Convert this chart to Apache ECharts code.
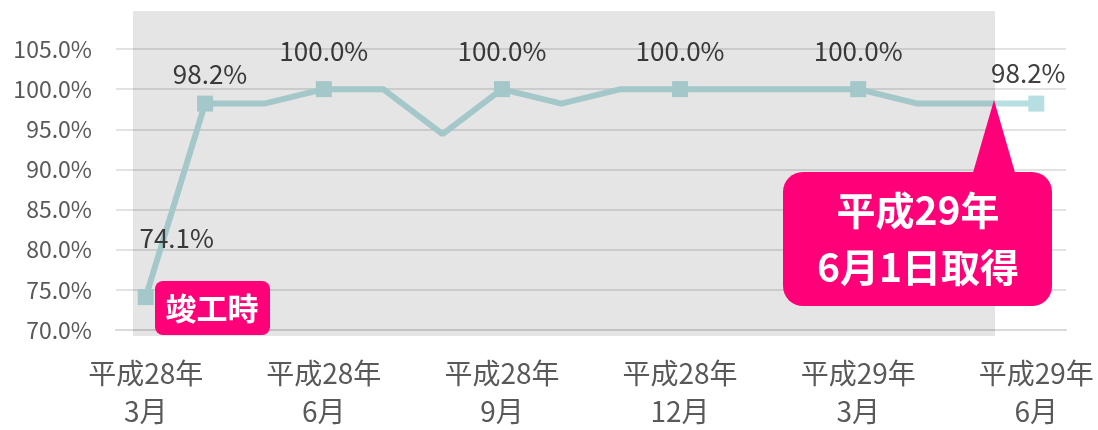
<!DOCTYPE html>
<html><head><meta charset="utf-8">
<script src="https://cdn.jsdelivr.net/npm/echarts@6/dist/echarts.min.js"></script>
<style>html,body{margin:0;padding:0;background:#fff}#c{width:1098px;height:430px}</style>
</head><body><div id="c"></div>
<script>
const categories = ['平成28年\n3月','平成28年\n4月','平成28年\n5月','平成28年\n6月','平成28年\n7月','平成28年\n8月','平成28年\n9月','平成28年\n10月','平成28年\n11月','平成28年\n12月','平成29年\n1月','平成29年\n2月','平成29年\n3月','平成29年\n4月','平成29年\n5月','平成29年\n6月'];
const occupancy = [74.1, 98.2, 98.2, 100, 100, 94.4, 100, 98.2, 100, 100, 100, 100, 100, 98.2, 98.2, 98.2];
const markedIndex = [0, 1, 3, 6, 9, 12, 15];
const yTicks = [70, 75, 80, 85, 90, 95, 100, 105];
const labelOffsets = {0: [31, -33], 1: [5, -3], 3: [0, -12], 6: [0, -12], 9: [0, -12], 12: [0, -12], 15: [-8, -4]};

const FONT = '"Noto Sans CJK JP", "Noto Sans", sans-serif';
const LINE = '#b7dfe1';

const seriesData = occupancy.map((v, i) => {
  const marked = markedIndex.includes(i);
  return {
    value: v,
    symbol: marked ? 'rect' : 'none',
    label: marked ? { show: true, offset: labelOffsets[i] } : { show: false }
  };
});

const chart = echarts.init(document.getElementById('c'), null, { renderer: 'canvas' });
chart.setOption({
  animation: false,
  backgroundColor: '#ffffff',
  grid: { left: 116, right: 32, top: 49, bottom: 94, containLabel: false },
  xAxis: {
    type: 'category',
    data: categories,
    boundaryGap: true,
    axisLine: { lineStyle: { color: '#d9d9d9', width: 2 } },
    axisTick: { show: false },
    axisLabel: { interval: 2, color: '#595959', fontSize: 28, fontFamily: FONT, lineHeight: 38, margin: 24 }
  },
  yAxis: {
    type: 'value',
    min: yTicks[0], max: yTicks[yTicks.length - 1], interval: 5,
    axisLine: { show: false },
    axisTick: { show: false },
    splitLine: { lineStyle: { color: '#d9d9d9', width: 1.5 } },
    axisLabel: { color: '#595959', fontSize: 23, fontFamily: FONT, margin: 24,
      formatter: v => v.toFixed(1) + '%' }
  },
  series: [{
    type: 'line',
    data: seriesData,
    symbolSize: 16,
    lineStyle: { color: LINE, width: 6 },
    itemStyle: { color: LINE },
    label: { position: 'top', distance: 5, color: '#404040', fontSize: 26, fontFamily: FONT,
      formatter: p => p.value.toFixed(1) + '%' },
    z: 2
  }],
  graphic: [
    { type: 'rect', z: 50, silent: true, shape: { x: 133, y: 11, width: 862, height: 325 },
      style: { fill: 'rgba(0,0,0,0.1)' } },
    { type: 'rect', z: 100, shape: { x: 155, y: 281, width: 115, height: 54, r: 8 },
      style: { fill: '#ff0078' } },
    { type: 'text', z: 101, x: 212, y: 308,
      style: { text: '竣工時', fill: '#fff', font: 'bold 31px ' + FONT, align: 'center', verticalAlign: 'middle' } },
    { type: 'polygon', z: 100, shape: { points: [[972, 176], [994, 100], [1016, 176]] },
      style: { fill: '#ff0078' } },
    { type: 'rect', z: 100, shape: { x: 783, y: 172, width: 269, height: 134, r: 20 },
      style: { fill: '#ff0078' } },
    { type: 'text', z: 101, x: 918, y: 210,
      style: { text: '平成29年', fill: '#fff', font: 'bold 39px ' + FONT, align: 'center', verticalAlign: 'middle' } },
    { type: 'text', z: 101, x: 918, y: 267,
      style: { text: '6月1日取得', fill: '#fff', font: 'bold 39px ' + FONT, align: 'center', verticalAlign: 'middle' } }
  ]
});
</script></body></html>
